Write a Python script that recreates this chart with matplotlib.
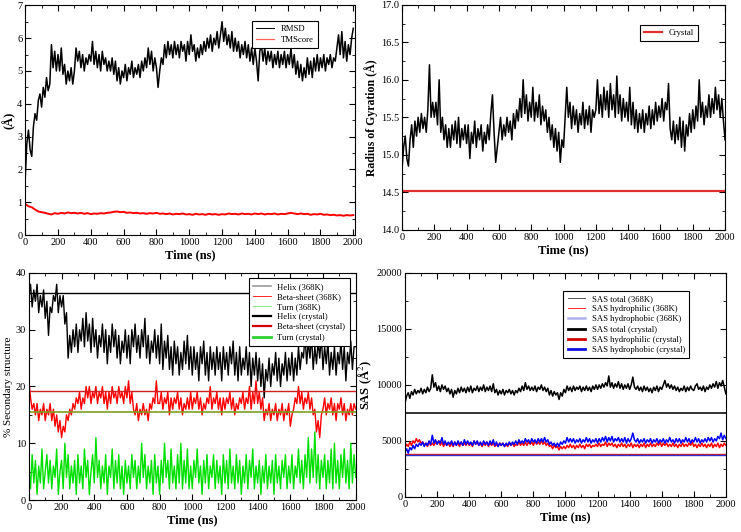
import numpy as np
import matplotlib
matplotlib.use('Agg')
import matplotlib.pyplot as plt
from matplotlib.lines import Line2D
from matplotlib.ticker import MultipleLocator

plt.rcParams['font.family'] = ['Liberation Serif', 'DejaVu Serif']
plt.rcParams['mathtext.fontset'] = 'stix'

# values, one every 10 ns (20 per row = 200 ns)
rmsd = [1.7, 2.8, 3.2, 2.6, 2.4, 3.3, 3.7, 3.5, 4.1, 4.3, 3.9, 4.5, 4.2, 4.8, 4.4, 4.6, 5.8, 5.1, 5.6, 5.0,
        5.5, 5.0, 5.7, 4.9, 5.2, 4.6, 5.0, 4.7, 5.1, 4.6, 5.0, 5.7, 5.3, 5.6, 5.1, 5.5, 5.0, 5.4, 5.2, 5.5,
        5.3, 5.9, 5.2, 5.6, 5.1, 5.5, 5.0, 5.6, 5.2, 5.4, 5.0, 5.3, 5.0, 5.4, 4.9, 5.3, 4.7, 5.1, 4.6, 5.0,
        4.8, 5.2, 4.7, 5.1, 4.9, 5.3, 4.8, 5.1, 4.9, 5.2, 4.8, 5.3, 5.0, 5.4, 5.1, 5.7, 5.2, 5.6, 5.0, 5.4,
        5.1, 4.5, 5.0, 5.4, 5.2, 5.8, 5.4, 5.9, 5.5, 5.8, 5.4, 5.9, 5.5, 5.8, 5.4, 5.9, 5.6, 5.8, 5.3, 5.9,
        5.5, 6.1, 5.6, 5.8, 5.3, 5.7, 5.4, 5.8, 5.5, 5.9, 5.6, 6.0, 5.7, 6.1, 5.6, 6.0, 5.8, 6.2, 5.7, 6.1,
        6.5, 5.9, 6.3, 5.8, 6.1, 5.7, 6.2, 5.6, 6.0, 5.6, 5.9, 5.4, 5.8, 5.5, 5.9, 5.4, 5.8, 5.3, 5.7, 5.2,
        5.7, 5.3, 4.7, 5.6, 5.8, 5.3, 5.7, 5.2, 5.6, 5.3, 5.6, 5.1, 5.5, 5.2, 5.6, 5.1, 5.5, 5.2, 5.6, 5.1,
        5.5, 5.2, 5.7, 5.1, 5.5, 4.9, 5.3, 4.8, 5.2, 4.7, 5.1, 4.8, 5.4, 4.9, 5.3, 4.8, 5.4, 5.0, 5.5, 5.0,
        5.4, 5.1, 5.5, 5.0, 5.4, 5.2, 5.5, 5.1, 5.4, 5.3, 5.7, 6.1, 5.5, 6.2, 5.4, 5.9, 5.3, 5.8, 5.5, 6.0,
        6.3]
# one every 20 ns
tmscore = [0.95, 0.88, 0.85, 0.78, 0.72, 0.70, 0.68, 0.65, 0.63, 0.67, 0.65, 0.68, 0.66, 0.69, 0.67, 0.68,
           0.66, 0.68, 0.65, 0.67, 0.64, 0.66, 0.65, 0.67, 0.66, 0.68, 0.69, 0.71, 0.72, 0.70, 0.71, 0.68,
           0.69, 0.67, 0.68, 0.66, 0.67, 0.65, 0.67, 0.66, 0.68, 0.65, 0.66, 0.64, 0.66, 0.63, 0.65, 0.64,
           0.66, 0.63, 0.64, 0.62, 0.65, 0.63, 0.64, 0.62, 0.65, 0.63, 0.64, 0.62, 0.64, 0.63, 0.66, 0.64,
           0.65, 0.63, 0.66, 0.64, 0.65, 0.63, 0.66, 0.64, 0.66, 0.63, 0.65, 0.64, 0.66, 0.63, 0.65, 0.64,
           0.66, 0.68, 0.66, 0.64, 0.66, 0.64, 0.65, 0.62, 0.64, 0.63, 0.65, 0.62, 0.63, 0.61, 0.62, 0.60,
           0.61, 0.59, 0.61, 0.60, 0.61]

rgyr = [14.8, 15.1, 15.25, 14.95, 14.85, 15.2, 15.4, 15.1, 15.45, 15.25, 15.5, 15.3, 15.55, 15.35, 15.5, 15.3, 15.6, 16.2, 15.5, 15.7,
        15.5, 15.7, 15.4, 16.0, 15.3, 15.5, 15.2, 15.4, 15.1, 15.35, 15.1, 15.4, 15.2, 15.45, 15.15, 15.5, 15.1, 15.35, 15.2, 15.4,
        15.15, 15.4, 14.95, 15.3, 15.15, 15.45, 15.1, 15.35, 15.2, 15.4, 15.05, 15.3, 15.15, 15.4, 15.2, 15.55, 15.8, 15.3, 14.9, 15.1,
        15.3, 15.5, 15.2, 15.4, 15.25, 15.5, 15.3, 15.45, 15.2, 15.55, 15.35, 15.6, 15.45, 15.75, 15.5, 16.0, 15.55, 15.8, 15.45, 15.7,
        15.5, 15.9, 15.45, 15.7, 15.5, 15.8, 15.4, 15.65, 15.45, 15.6, 15.3, 15.5, 15.2, 15.4, 15.1, 15.35, 15.05, 15.3, 14.9, 15.2,
        15.1, 15.5, 15.9, 15.5, 15.7, 15.35, 15.65, 15.4, 15.6, 15.3, 15.55, 15.4, 15.7, 15.35, 15.6, 15.4, 15.65, 15.3, 15.6, 15.5,
        15.6, 16.0, 15.55, 15.8, 15.5, 15.9, 15.6, 15.85, 15.5, 15.95, 15.6, 15.8, 15.5, 16.05, 15.55, 15.8, 15.45, 15.75, 15.5, 15.7,
        15.45, 15.9, 15.4, 15.7, 15.35, 15.6, 15.3, 15.55, 15.35, 15.6, 15.3, 15.55, 15.4, 15.65, 15.35, 15.6, 15.4, 15.7, 15.45, 15.65,
        15.5, 15.75, 15.45, 15.7, 15.6, 15.95, 15.35, 15.2, 15.45, 15.15, 15.4, 15.2, 15.5, 15.1, 15.45, 15.05, 15.4, 15.25, 15.55, 15.3,
        15.6, 15.35, 15.65, 15.45, 16.0, 15.5, 15.7, 15.4, 15.65, 15.5, 15.8, 15.5, 15.75, 15.55, 15.9, 15.6, 15.8, 15.5, 15.75, 15.45,
        15.2]
rgyr_crystal = 14.52

helix = [36, 38, 34, 37, 35, 38, 33, 36, 34, 37, 32, 35, 29, 34, 33, 36, 35, 38, 33, 36,
         34, 36, 31, 33, 25, 29, 26, 30, 27, 31, 26, 30, 28, 32, 27, 33, 28, 31, 26, 32,
         27, 30, 25, 29, 27, 31, 26, 30, 24, 29, 26, 31, 27, 30, 25, 29, 24, 28, 26, 30,
         25, 29, 24, 30, 27, 31, 26, 29, 25, 30, 27, 32, 25, 29, 24, 28, 26, 30, 25, 29,
         24, 31, 23, 28, 25, 29, 23, 27, 22, 28, 24, 27, 22, 26, 23, 28, 24, 29, 23, 27,
         22, 27, 23, 26, 21, 27, 24, 28, 22, 26, 21, 27, 23, 26, 22, 27, 23, 26, 21, 27,
         23, 26, 22, 27, 24, 28, 22, 26, 21, 27, 22, 25, 23, 27, 22, 26, 20, 25, 22, 26,
         21, 25, 20, 24, 18, 23, 21, 25, 20, 24, 22, 26, 21, 25, 20, 24, 22, 26, 21, 25,
         22, 26, 21, 25, 22, 27, 23, 26, 25, 29, 24, 28, 25, 29, 23, 27, 24, 28, 25, 29,
         23, 27, 24, 28, 22, 26, 23, 27, 22, 26, 24, 28, 23, 27, 21, 26, 24, 28, 23, 27,
         27]
beta = [21, 18, 16, 17, 15, 17, 14, 16, 15, 17, 14, 16, 15, 17, 14, 16, 13, 15, 12, 14,
        11, 13, 12, 15, 14, 16, 15, 17, 16, 18, 17, 19, 16, 18, 17, 20, 18, 20, 17, 19,
        18, 20, 17, 19, 18, 20, 17, 19, 16, 19, 17, 20, 18, 19, 17, 20, 18, 19, 17, 20,
        18, 21, 17, 19, 16, 15, 17, 14, 16, 15, 17, 15, 16, 14, 17, 16, 18, 17, 21, 17,
        17, 19, 16, 18, 17, 19, 15, 18, 16, 18, 17, 19, 16, 18, 15, 17, 16, 18, 16, 19,
        16, 18, 17, 19, 16, 18, 15, 17, 16, 18, 17, 20, 16, 18, 17, 19, 16, 18, 15, 18,
        16, 18, 17, 19, 16, 18, 15, 17, 16, 18, 17, 19, 16, 18, 17, 20, 16, 19, 17, 21,
        17, 19, 16, 18, 14, 16, 15, 17, 14, 16, 15, 17, 14, 16, 15, 17, 14, 16, 15, 17,
        13, 15, 16, 18, 17, 20, 17, 19, 16, 18, 17, 19, 16, 18, 15, 16, 12, 14, 11, 15,
        16, 18, 15, 17, 16, 18, 15, 17, 14, 17, 16, 18, 15, 17, 14, 16, 15, 17, 15, 17,
        16]
turn = [6, 2, 8, 3, 7, 1, 6, 3, 9, 2, 5, 8, 3, 7, 2, 6, 4, 9, 1, 5,
        7, 2, 10, 4, 8, 2, 6, 3, 7, 1, 8, 3, 6, 2, 9, 4, 7, 1, 5, 8,
        3, 11, 4, 7, 2, 6, 3, 8, 1, 6, 4, 9, 2, 7, 3, 8, 2, 6, 1, 7,
        3, 6, 2, 8, 4, 7, 2, 6, 3, 10, 4, 8, 2, 6, 3, 7, 1, 8, 3, 6,
        1, 7, 3, 10, 4, 7, 2, 9, 3, 6, 2, 8, 3, 10, 2, 7, 3, 9, 2, 6,
        2, 7, 4, 9, 3, 6, 1, 7, 3, 8, 2, 6, 4, 8, 2, 7, 3, 6, 1, 8,
        3, 7, 2, 9, 3, 6, 2, 8, 3, 7, 1, 6, 3, 8, 2, 7, 4, 9, 2, 6,
        3, 7, 1, 6, 3, 8, 2, 6, 3, 7, 1, 8, 3, 6, 2, 7, 4, 8, 2, 6,
        3, 8, 2, 6, 4, 9, 3, 7, 2, 8, 4, 11, 3, 9, 4, 12, 3, 8, 2, 7,
        4, 8, 2, 7, 3, 9, 2, 10, 3, 7, 2, 8, 4, 9, 3, 7, 2, 10, 3, 8,
        4]
helix_crystal = 36.5
beta_crystal = 19.2
turn_crystal = 15.5

sas_total = [8400, 9000, 9300, 8800, 9400, 9100, 9600, 9200, 9500, 9300, 9700, 9200, 9600, 9300, 9800, 9400, 9700, 10900, 9800, 10200,
             9500, 9900, 9400, 10000, 9600, 9900, 9400, 9700, 9200, 9600, 8900, 9500, 9200, 9700, 9300, 9800, 9400, 9700, 9300, 9800,
             9400, 9900, 9300, 9700, 9500, 9900, 9400, 9800, 9500, 10000, 9400, 9800, 9500, 9900, 9400, 10100, 9300, 9600, 9100, 9500,
             9200, 9600, 9100, 9500, 9300, 9600, 9200, 9500, 9100, 9500, 9300, 9700, 9400, 9900, 9500, 10200, 9600, 9900, 9500, 9800,
             9500, 9900, 9400, 9800, 9600, 10000, 9500, 9800, 9400, 9700, 9100, 9500, 9000, 9400, 9100, 9300, 8700, 9300, 9000, 9600,
             9300, 9900, 9500, 9800, 9400, 9900, 9500, 9800, 9600, 9900, 9400, 9800, 9500, 9900, 9500, 9800, 9400, 9900, 9600, 10000,
             9600, 10000, 9700, 10100, 9800, 10200, 9900, 10800, 9800, 10200, 9700, 10100, 9800, 10300, 9700, 10100, 9600, 10000, 9700, 10100,
             9600, 10000, 10700, 9800, 9600, 9900, 9500, 9800, 9400, 9900, 9500, 9800, 9400, 9700, 9300, 9800, 9500, 9900, 9400, 9800,
             9600, 10000, 10400, 9800, 10100, 9700, 10000, 9600, 9900, 9500, 9800, 9400, 9700, 9500, 9900, 9400, 9800, 9500, 9900, 9600,
             9500, 9900, 10100, 9600, 9800, 9500, 9900, 9400, 9800, 9600, 10000, 9700, 10100, 9800, 10300, 9700, 10200, 9900, 10400, 9800,
             9200]
sas_hphil = [4400, 4700, 4500, 4900, 4600, 5000, 4800, 5200, 4900, 5100, 4800, 4900, 4600, 4800, 4500, 4900, 4600, 4800, 4600, 4900,
             4700, 5000, 4600, 4900, 4500, 4800, 4600, 4800, 4500, 4800, 4500, 4900, 4600, 4800, 4500, 4900, 4600, 4800, 4600, 4900,
             4600, 4800, 4500, 5000, 4700, 4900, 4600, 4800, 4500, 4800, 4600, 4900, 4500, 4800, 4600, 4800, 4500, 4700, 4500, 4800,
             4600, 4800, 4500, 4700, 4500, 4800, 4600, 4800, 4500, 4700, 4600, 4900, 4600, 4800, 4600, 4900, 4600, 4900, 4700, 4900,
             4600, 5000, 4700, 4900, 4700, 5000, 4700, 4900, 4600, 4800, 4500, 4600, 4300, 4600, 4400, 4500, 4200, 4500, 4300, 4500,
             4300, 4600, 4400, 4700, 4400, 4600, 4300, 4600, 4400, 4700, 4400, 4600, 4300, 4700, 4500, 4700, 4400, 4600, 4500, 4700,
             4500, 4800, 4500, 4700, 4600, 4900, 4500, 4800, 4600, 4800, 4500, 4700, 4400, 4700, 4500, 4800, 4500, 4700, 4400, 4700,
             4500, 4800, 4400, 4700, 4500, 4700, 4400, 4700, 4500, 4800, 4400, 4700, 4500, 4800, 4500, 4700, 4500, 4800, 4600, 4900,
             4500, 4800, 4600, 4800, 4500, 4700, 4500, 4800, 4500, 4700, 4400, 4700, 4500, 4800, 4500, 4700, 4500, 4800, 4600, 4900,
             4500, 4700, 4400, 4700, 4500, 4800, 4500, 4700, 4400, 4700, 4500, 4800, 4400, 4700, 4500, 4800, 4400, 4700, 4500, 4800,
             4600]
sas_hphob = [4000, 4300, 3900, 4400, 4200, 4600, 4300, 4700, 4500, 4800, 4600, 4900, 4500, 4800, 4600, 5000, 4700, 5500, 4800, 5100,
             4700, 5000, 4800, 5300, 4700, 5000, 4600, 4900, 4700, 5000, 4600, 4900, 4600, 5000, 4700, 4900, 4600, 5100, 4700, 5000,
             4700, 4900, 4600, 5000, 4700, 5000, 4600, 4900, 4600, 5000, 4700, 4900, 4600, 5000, 4700, 5100, 4600, 4900, 4500, 4800,
             4600, 4800, 4500, 4800, 4600, 4900, 4600, 4900, 4700, 5000, 4700, 5100, 4800, 5000, 4800, 5200, 4900, 5100, 4800, 5200,
             4900, 5100, 4800, 5200, 4900, 5200, 4900, 5300, 4900, 5100, 4700, 4900, 4600, 4800, 4500, 4800, 4500, 4900, 4700, 5000,
             4800, 5300, 4900, 5200, 4900, 5200, 4800, 5100, 4900, 5200, 4800, 5100, 4900, 5300, 4900, 5200, 4800, 5100, 4900, 5200,
             4800, 5200, 4900, 5300, 5000, 5400, 4900, 5300, 5000, 5400, 4900, 5200, 5000, 5300, 4900, 5200, 4900, 5300, 4800, 5200,
             4900, 5200, 5700, 5100, 4900, 5200, 4800, 5100, 4900, 5200, 4800, 5100, 4900, 5200, 4800, 5100, 4900, 5200, 4800, 5100,
             4900, 5200, 4800, 5100, 4900, 5300, 4900, 5100, 4800, 5200, 4900, 5200, 4800, 5100, 4900, 5300, 4900, 5200, 4800, 5100,
             4900, 5300, 4900, 5200, 4800, 5100, 4900, 5200, 4900, 5300, 5000, 5300, 4900, 5200, 5000, 5400, 5200, 5700, 5100, 5500,
             5200]
sas_total_crystal = 7500
sas_hphil_crystal = 3800
sas_hphob_crystal = 3700


def time_of(vals):
    return np.linspace(0, 2000, len(vals))


def style_axes(ax, xmax, ymin, ymax, ymaj, ymin_step):
    ax.set_xlim(0, xmax)
    ax.set_ylim(ymin, ymax)
    ax.xaxis.set_major_locator(MultipleLocator(200))
    ax.xaxis.set_minor_locator(MultipleLocator(100))
    ax.yaxis.set_major_locator(MultipleLocator(ymaj))
    ax.yaxis.set_minor_locator(MultipleLocator(ymin_step))
    ax.tick_params(which='both', direction='in', top=True, right=True, labelsize=7.5, pad=2)
    ax.tick_params(which='major', length=4)
    ax.tick_params(which='minor', length=2)
    ax.set_xlabel('Time (ns)', fontsize=9, fontweight='bold', labelpad=2)
    for s in ax.spines.values():
        s.set_linewidth(0.8)


def box_legend(ax, handles, labels, **kw):
    leg = ax.legend(handles, labels, fancybox=False, framealpha=1, edgecolor='black',
                    fontsize=6.2, borderpad=0.5, handlelength=2.0, labelspacing=0.25, **kw)
    leg.get_frame().set_linewidth(0.8)
    return leg


fig = plt.figure()
fig.set_size_inches(7.41, 5.32)

# RMSD / TMScore
p1 = fig.add_axes([0.034, 0.558, 0.445, 0.432])
p1.plot(time_of(rmsd), rmsd, color='black', lw=1.1)
p1.plot(time_of(tmscore), tmscore, color='red', lw=1.4)
style_axes(p1, 2010, 0, 7, 1, 0.5)
p1.set_ylabel('(Å)', fontsize=9, fontweight='bold', labelpad=1)
box_legend(p1, [Line2D([], [], color='black', lw=0.7), Line2D([], [], color='#ff6060', lw=0.9)],
           ['RMSD', 'TMScore'], loc='upper right', bbox_to_anchor=(0.9, 0.95))

# radius of gyration
p2 = fig.add_axes([0.5425, 0.568, 0.436, 0.423])
p2.plot(time_of(rgyr), rgyr, color='black', lw=1.1)
p2.axhline(rgyr_crystal, color='#e03030', lw=1.6)
style_axes(p2, 2000, 14, 17, 0.5, 0.25)
p2.set_ylabel('Radius of Gyration (Å)', fontsize=8.5, fontweight='bold', labelpad=2)
box_legend(p2, [Line2D([], [], color='#e03030', lw=1.6)], ['Crystal'],
           loc='upper right', bbox_to_anchor=(0.93, 0.93))

# secondary structure
p3 = fig.add_axes([0.039, 0.060, 0.441, 0.427])
p3.plot(time_of(helix), helix, color='black', lw=1.0)
p3.plot(time_of(beta), beta, color='red', lw=1.0)
p3.plot(time_of(turn), turn, color='#00e000', lw=1.0)
p3.axhline(helix_crystal, color='black', lw=1.0)
p3.axhline(beta_crystal, color='#d02020', lw=1.0)
p3.axhline(turn_crystal, color='#80a020', lw=1.2)
style_axes(p3, 2000, 0, 40, 10, 5)
p3.set_ylabel('% Secondary structure', fontsize=8, labelpad=2)
box_legend(p3, [Line2D([], [], color='#999999', lw=1.2), Line2D([], [], color='red', lw=0.6),
                Line2D([], [], color='#90ee90', lw=0.9), Line2D([], [], color='black', lw=1.6),
                Line2D([], [], color='#d00000', lw=1.6), Line2D([], [], color='#30d030', lw=2.0)],
           ['Helix (368K)', 'Beta-sheet (368K)', 'Turn (368K)', 'Helix (crystal)',
            'Beta-sheet (crystal)', 'Turn (crystal)'],
           loc='upper right', bbox_to_anchor=(0.995, 0.995))

# solvent accessible surface
p4 = fig.add_axes([0.5466, 0.066, 0.433, 0.421])
p4.plot(time_of(sas_total), sas_total, color='black', lw=1.1)
p4.plot(time_of(sas_hphil), sas_hphil, color='red', lw=1.1)
p4.plot(time_of(sas_hphob), sas_hphob, color='blue', lw=1.1)
p4.axhline(sas_total_crystal, color='#333333', lw=1.4)
p4.axhline(sas_hphil_crystal, color='#d02020', lw=1.0)
p4.axhline(sas_hphob_crystal, color='#3030d0', lw=1.0)
style_axes(p4, 2000, 0, 20000, 5000, 2500)
p4.set_ylabel('SAS (Å$^2$)', fontsize=9, fontweight='bold', labelpad=2)
box_legend(p4, [Line2D([], [], color='#555555', lw=0.7), Line2D([], [], color='red', lw=0.6),
                Line2D([], [], color='#b0b0f0', lw=1.8), Line2D([], [], color='black', lw=2.0),
                Line2D([], [], color='#d00000', lw=2.0), Line2D([], [], color='#1010e0', lw=2.0)],
           ['SAS total (368K)', 'SAS hydrophilic (368K)', 'SAS hydrophobic (368K)',
            'SAS total (crystal)', 'SAS hydrophilic (crystal)', 'SAS hydrophobic (crystal)'],
           loc='upper right', bbox_to_anchor=(0.9, 0.94))

plt.savefig('out.png', dpi=100)
